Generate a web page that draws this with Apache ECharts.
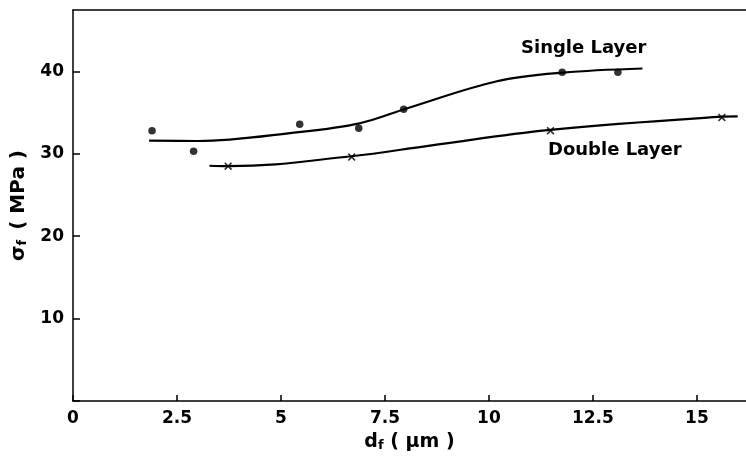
<!DOCTYPE html>
<html><head><meta charset="utf-8">
<script src="https://cdn.jsdelivr.net/npm/echarts@6/dist/echarts.min.js"></script>
<style>html,body{margin:0;padding:0;background:#fff}#c{width:746px;height:462px}</style>
</head><body><div id="c"></div>
<script>
// Measured points
const singleX = [1.9, 2.9, 5.45, 6.87, 7.95, 11.76, 13.1];
const singleY = [32.8, 30.3, 33.6, 33.1, 35.4, 39.9, 39.9];
const doubleX = [3.73, 6.7, 11.48, 15.6];
const doubleY = [28.5, 29.6, 32.8, 34.4];
// Fitted curves
const singleCurveX = [1.83, 3.0, 5.37, 6.89, 8.02, 10.19, 11.78, 13.69];
const singleCurveY = [31.6, 31.55, 32.6, 33.7, 35.5, 38.8, 39.85, 40.35];
const doubleCurveX = [3.28, 3.73, 6.7, 8.58, 11.48, 15.6, 15.98];
const doubleCurveY = [28.55, 28.5, 29.7, 31.0, 32.9, 34.5, 34.55];
const xTicks = [0, 2.5, 5, 7.5, 10, 12.5, 15];
const yTicks = [10, 20, 30, 40];
const labels = ['Single Layer', 'Double Layer'];

const zip = (a, b) => a.map((v, i) => [v, b[i]]);
const font = 'DejaVu Sans';
const xSym = 'path://M0,1.5L1.5,0L5,3.5L8.5,0L10,1.5L6.5,5L10,8.5L8.5,10L5,6.5L1.5,10L0,8.5L3.5,5Z';

const chart = echarts.init(document.getElementById('c'));
chart.setOption({
  animation: false,
  backgroundColor: '#fff',
  grid: { left: 73, right: 0, top: 10, bottom: 61 },
  xAxis: [{
    type: 'value', min: 0, max: 16.18, interval: 2.5,
    axisLine: { lineStyle: { color: '#000', width: 1.5 } },
    axisTick: { inside: true, length: 6, lineStyle: { color: '#000', width: 1.5 } },
    axisLabel: { color: '#000', fontFamily: font, fontWeight: 'bold', fontSize: 17, margin: 9, showMaxLabel: false,
      formatter: v => xTicks.includes(v) ? String(v) : '' },
    splitLine: { show: false },
    name: '{a|d}{b|f}  {a|( μm )}', nameLocation: 'middle', nameGap: 32,
    nameTextStyle: { rich: {
      a: { fontFamily: font, fontWeight: 'bold', fontSize: 19, color: '#000' },
      b: { fontFamily: font, fontWeight: 'bold', fontSize: 13, color: '#000', padding: [6, 0, 0, 0] } } }
  }, {
    type: 'value', position: 'top', min: 0, max: 16.18,
    axisLine: { show: true, lineStyle: { color: '#000', width: 1.5 } },
    axisTick: { show: false }, axisLabel: { show: false }, splitLine: { show: false }
  }],
  yAxis: {
    type: 'value', min: 0, max: 47.45, interval: 10,
    axisLine: { lineStyle: { color: '#000', width: 1.5 } },
    axisTick: { inside: true, length: 7, lineStyle: { color: '#000', width: 1.5 } },
    axisLabel: { color: '#000', fontFamily: font, fontWeight: 'bold', fontSize: 17, margin: 9, showMaxLabel: false,
      formatter: v => yTicks.includes(v) ? String(v) : '' },
    splitLine: { show: false },
    name: '{a|σ}{b|f}   {a|( MPa )}', nameLocation: 'middle', nameGap: 44,
    nameTextStyle: { rich: {
      a: { fontFamily: font, fontWeight: 'bold', fontSize: 20, color: '#000' },
      b: { fontFamily: font, fontWeight: 'bold', fontSize: 13, color: '#000', padding: [8, 0, 0, 0] } } }
  },
  series: [
    { type: 'line', data: zip(singleCurveX, singleCurveY), smooth: 0.35, symbol: 'none',
      lineStyle: { color: '#000', width: 2.2 } },
    { type: 'line', data: zip(doubleCurveX, doubleCurveY), smooth: 0.4, symbol: 'none',
      lineStyle: { color: '#000', width: 2.2 } },
    { type: 'scatter', data: zip(singleX, singleY), symbol: 'circle', symbolSize: 7.5,
      itemStyle: { color: '#000' } },
    { type: 'scatter', data: zip(doubleX, doubleY), symbol: xSym, symbolSize: 8,
      itemStyle: { color: '#000' } }
  ],
  graphic: [
    { type: 'text', left: 521, top: 39, style: { text: labels[0], font: 'bold 18px "DejaVu Sans"', fill: '#000' } },
    { type: 'text', left: 548, top: 141, style: { text: labels[1], font: 'bold 18px "DejaVu Sans"', fill: '#000' } }
  ]
});
</script></body></html>
